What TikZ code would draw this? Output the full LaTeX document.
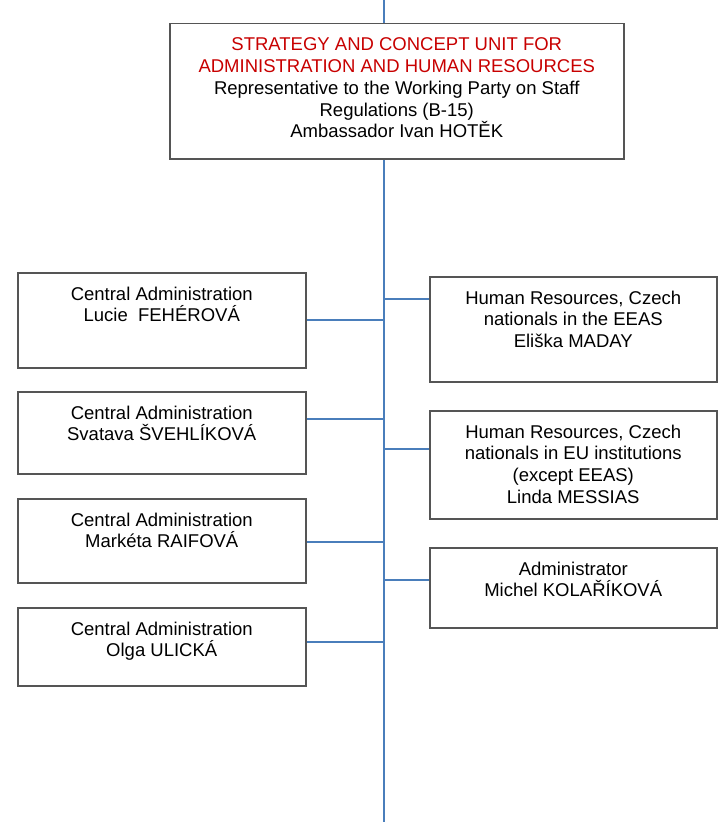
\documentclass[tikz,border=0pt]{standalone}
\usepackage{fontspec}
\setmainfont{Liberation Sans}
\definecolor{boxgray}{RGB}{85,85,85}
\definecolor{connblue}{RGB}{74,126,187}
\definecolor{unitred}{RGB}{200,0,0}
\newcommand{\firststrut}{\rule{0pt}{15pt}}
\tikzset{
  orgbox/.style={draw=boxgray, line width=1.5pt, fill=white, rectangle, inner sep=0pt, anchor=north west},
  orgtxt/.style={font=\fontsize{18.5}{21.7}\selectfont, align=center, inner sep=0pt, anchor=north, text=black},
  conn/.style={draw=connblue, line width=2pt}
}
\begin{document}
\begin{tikzpicture}[x=1pt,y=-1pt]
\useasboundingbox (0,0) rectangle (728,822);
% spine coordinates
\coordinate (sTop) at (384.3,0);
\coordinate (sBot) at (384.3,822);
\coordinate (jL1) at (384.3,320);
\coordinate (jL2) at (384.3,419);
\coordinate (jL3) at (384.3,542);
\coordinate (jL4) at (384.3,642);
\coordinate (jR1) at (384.3,298.7);
\coordinate (jR2) at (384.3,449);
\coordinate (jR3) at (384.3,580);
% boxes
\node[orgbox, minimum width=454pt, minimum height=135.3pt] (T) at (169,22.7) {};
\node[orgbox, minimum width=288pt, minimum height=95pt] (L1) at (17,272) {};
\node[orgbox, minimum width=288pt, minimum height=82pt] (L2) at (17,391) {};
\node[orgbox, minimum width=288pt, minimum height=84pt] (L3) at (17,498) {};
\node[orgbox, minimum width=288pt, minimum height=78pt] (L4) at (17,607) {};
\node[orgbox, minimum width=287pt, minimum height=105pt] (R1) at (429,276) {};
\node[orgbox, minimum width=287pt, minimum height=108pt] (R2) at (429,410) {};
\node[orgbox, minimum width=287pt, minimum height=80pt] (R3) at (429,547) {};
% spine
\draw[conn] (sTop) -- (sTop |- T.north);
\draw[conn] (sTop |- T.south) -- (sBot);
% branches
\draw[conn] (jL1 -| L1.east) -- (jL1);
\draw[conn] (jL2 -| L2.east) -- (jL2);
\draw[conn] (jL3 -| L3.east) -- (jL3);
\draw[conn] (jL4 -| L4.east) -- (jL4);
\draw[conn] (jR1) -- (jR1 -| R1.west);
\draw[conn] (jR2) -- (jR2 -| R2.west);
\draw[conn] (jR3) -- (jR3 -| R3.west);
% texts
\node[orgtxt] (Tt) at ([yshift=-13pt]T.north) {\firststrut\textcolor{unitred}{STRATEGY AND CONCEPT UNIT FOR}\\\textcolor{unitred}{ADMINISTRATION AND HUMAN RESOURCES}\\Representative to the Working Party on Staff\\Regulations (B-15)\\Ambassador Ivan HOTĚK};
\node[orgtxt] (L1t) at ([yshift=-13pt]L1.north) {\firststrut Central Administration\\Lucie\ \ FEHÉROVÁ};
\node[orgtxt] (L2t) at ([yshift=-13pt]L2.north) {\firststrut Central Administration\\Svatava ŠVEHLÍKOVÁ};
\node[orgtxt] (L3t) at ([yshift=-13pt]L3.north) {\firststrut Central Administration\\Markéta RAIFOVÁ};
\node[orgtxt] (L4t) at ([yshift=-13pt]L4.north) {\firststrut Central Administration\\Olga ULICKÁ};
\node[orgtxt] (R1t) at ([yshift=-13pt]R1.north) {\firststrut Human Resources, Czech\\nationals in the EEAS\\Eliška MADAY};
\node[orgtxt] (R2t) at ([yshift=-13pt]R2.north) {\firststrut Human Resources, Czech\\nationals in EU institutions\\(except EEAS)\\Linda MESSIAS};
\node[orgtxt] (R3t) at ([yshift=-13pt]R3.north) {\firststrut Administrator\\Michel KOLAŘÍKOVÁ};
\end{tikzpicture}
\end{document}
